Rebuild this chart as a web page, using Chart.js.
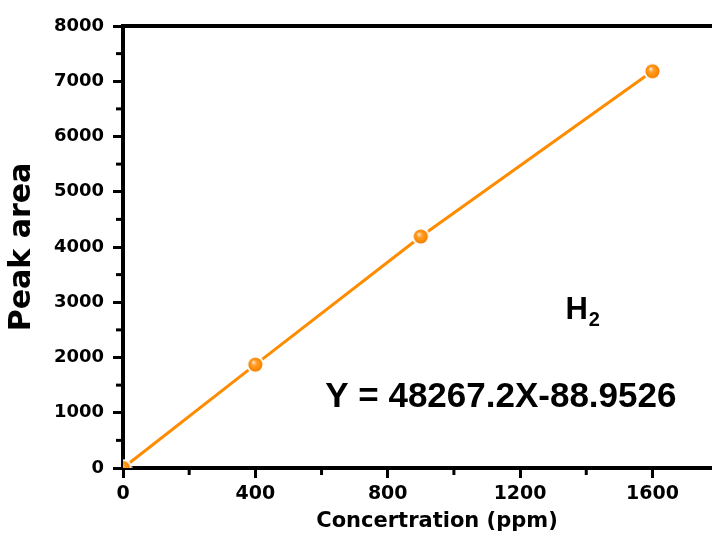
<!DOCTYPE html>
<html>
<head>
<meta charset="utf-8">
<script src="https://cdn.jsdelivr.net/npm/chart.js"></script>
<style>
  html, body { margin: 0; padding: 0; background: #fff; }
  #wrap { width: 712px; height: 537px; }
</style>
</head>
<body>
<div id="wrap"><canvas id="cal"></canvas></div>
<script>
// calibration data for H2
const concentration = [0, 400, 900, 1600];
const peakArea = [0, 1870, 4190, 7180];
const yTicksMajor = [0, 1000, 2000, 3000, 4000, 5000, 6000, 7000, 8000];
const xTicksMajor = [0, 400, 800, 1200, 1600];

const orange = '#FF8C00';

// little shaded ball used as the marker
function makeBall() {
    const c = document.createElement('canvas');
    c.width = 19; c.height = 19;
    const g = c.getContext('2d');
    g.fillStyle = '#fff';
    g.beginPath(); g.arc(9.5, 9.5, 9, 0, Math.PI * 2); g.fill();
    const grad = g.createRadialGradient(7.5, 7, 0.5, 9.5, 9.5, 7);
    grad.addColorStop(0, '#FFE2BE');
    grad.addColorStop(0.35, '#FF9E2A');
    grad.addColorStop(0.8, '#FF8A00');
    grad.addColorStop(1, '#E87800');
    g.fillStyle = grad;
    g.beginPath(); g.arc(9.5, 9.5, 7, 0, Math.PI * 2); g.fill();
    return c;
}
const ball = makeBall();

// top frame line, minor ticks and the text labels
const extras = {
    id: 'extras',
    afterDraw(chart) {
        const ctx = chart.ctx;
        const a = chart.chartArea;
        const x = chart.scales.x, y = chart.scales.y;
        ctx.save();
        ctx.strokeStyle = '#000';
        ctx.lineWidth = 4;
        ctx.beginPath();
        ctx.moveTo(a.left - 2, a.top);
        ctx.lineTo(chart.width, a.top);
        ctx.stroke();

        ctx.lineWidth = 3;
        for (let v = 500; v < 8000; v += 1000) {
            const py = y.getPixelForValue(v);
            ctx.beginPath(); ctx.moveTo(a.left, py); ctx.lineTo(a.left - 7, py); ctx.stroke();
        }
        for (let v = 200; v < 1780; v += 400) {
            const px = x.getPixelForValue(v);
            ctx.beginPath(); ctx.moveTo(px, a.bottom); ctx.lineTo(px, a.bottom + 7); ctx.stroke();
        }

        ctx.fillStyle = '#000';
        ctx.textBaseline = 'alphabetic';
        ctx.textAlign = 'left';
        ctx.font = 'bold 31px "Liberation Sans", Arial, sans-serif';
        const hx = x.getPixelForValue(1337), hy = y.getPixelForValue(2700);
        ctx.fillText('H', hx, hy);
        const hw = ctx.measureText('H').width;
        ctx.font = 'bold 20px "Liberation Sans", Arial, sans-serif';
        ctx.fillText('2', hx + hw + 1, hy + 7);

        ctx.font = 'bold 35px "Liberation Sans", Arial, sans-serif';
        ctx.fillText('Y = 48267.2X-88.9526', x.getPixelForValue(611), y.getPixelForValue(1104));

        ctx.textAlign = 'center';
        ctx.font = 'bold 21px "DejaVu Sans", sans-serif';
        ctx.fillText('Concertration (ppm)', 437, 527);
        ctx.restore();
    }
};

new Chart(document.getElementById('cal'), {
    type: 'scatter',
    data: {
        datasets: [{
            data: concentration.map((c, i) => ({ x: c, y: peakArea[i] })),
            showLine: true,
            borderColor: orange,
            borderWidth: 3,
            pointStyle: ball,
            pointRadius: 7,
            clip: 0
        }]
    },
    options: {
        responsive: true,
        maintainAspectRatio: false,
        animation: false,
        layout: { autoPadding: false, padding: { top: 26, right: 0, left: 0, bottom: 0 } },
        plugins: { legend: { display: false }, tooltip: { enabled: false } },
        scales: {
            x: {
                type: 'linear',
                min: 0,
                max: 1780,
                afterFit: s => { s.height = 69; s.paddingRight = 0; s.paddingLeft = 0; },
                border: { color: '#000', width: 4 },
                grid: {
                    drawOnChartArea: false,
                    drawTicks: true,
                    tickLength: 10,
                    tickWidth: 3,
                    tickColor: '#000'
                },
                ticks: {
                    stepSize: 400,
                    includeBounds: false,
                    maxRotation: 0,
                    padding: 5,
                    color: '#000',
                    font: { family: '"DejaVu Sans", sans-serif', size: 19, weight: 'bold' },
                    callback: v => xTicksMajor.includes(v) ? String(v) : ''
                }
            },
            y: {
                min: 0,
                max: 8000,
                afterFit: s => { s.width = 123; },
                border: { color: '#000', width: 4 },
                grid: {
                    drawOnChartArea: false,
                    drawTicks: true,
                    tickLength: 10,
                    tickWidth: 3,
                    tickColor: '#000'
                },
                ticks: {
                    stepSize: 1000,
                    padding: 9,
                    color: '#000',
                    font: { family: '"DejaVu Sans", sans-serif', size: 18, weight: 'bold' },
                    callback: v => yTicksMajor.includes(v) ? String(v) : ''
                },
                title: {
                    display: true,
                    text: 'Peak area',
                    color: '#000',
                    padding: { top: 4, bottom: 0 },
                    font: { family: '"DejaVu Sans", sans-serif', size: 30, weight: 'bold' }
                }
            }
        }
    },
    plugins: [extras]
});
</script>
</body>
</html>
